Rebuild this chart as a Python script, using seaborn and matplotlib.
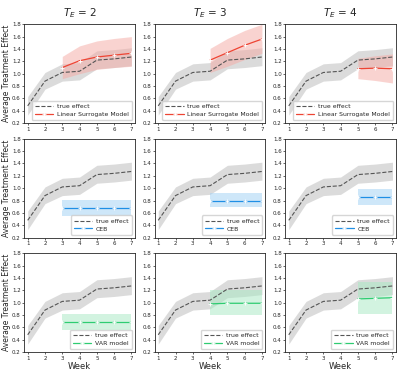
import numpy as np
import pandas as pd
import matplotlib
matplotlib.use("Agg")
import matplotlib.pyplot as plt
import seaborn as sns

# true effect (same in every panel)
weeks = [1, 2, 3, 4, 5, 6, 7]
true_mean = [0.48, 0.88, 1.02, 1.04, 1.22, 1.24, 1.27]
true_low = [0.33, 0.75, 0.88, 0.90, 1.08, 1.10, 1.13]
true_high = [0.63, 1.02, 1.16, 1.18, 1.37, 1.39, 1.42]

# experiment lengths (columns)
te_values = [2, 3, 4]

# Linear Surrogate Model
lsm_mean = {2: [1.10, 1.21, 1.27, 1.30, 1.33],
            3: [1.22, 1.34, 1.46, 1.56],
            4: [1.08, 1.09, 1.08]}
lsm_low = {2: [0.92, 1.00, 1.07, 1.10, 1.12],
           3: [1.02, 1.12, 1.23, 1.33],
           4: [0.92, 0.89, 0.85]}
lsm_high = {2: [1.28, 1.45, 1.53, 1.57, 1.60],
            3: [1.41, 1.57, 1.70, 1.80],
            4: [1.25, 1.29, 1.32]}

# CEB
ceb_mean = {2: [0.68, 0.68, 0.68, 0.68, 0.68],
            3: [0.80, 0.80, 0.80, 0.80],
            4: [0.85, 0.85, 0.85]}
ceb_low = {2: [0.55, 0.55, 0.55, 0.55, 0.55],
           3: [0.69, 0.69, 0.69, 0.69],
           4: [0.73, 0.73, 0.73]}
ceb_high = {2: [0.81, 0.81, 0.81, 0.81, 0.81],
            3: [0.92, 0.92, 0.92, 0.92],
            4: [0.98, 0.98, 0.98]}

# VAR model
var_mean = {2: [0.68, 0.68, 0.68, 0.68, 0.68],
            3: [0.98, 0.99, 0.99, 0.99],
            4: [1.06, 1.07, 1.08]}
var_low = {2: [0.55, 0.55, 0.55, 0.55, 0.55],
           3: [0.80, 0.80, 0.80, 0.80],
           4: [0.81, 0.81, 0.81]}
var_high = {2: [0.81, 0.81, 0.81, 0.81, 0.81],
            3: [1.20, 1.20, 1.20, 1.20],
            4: [1.33, 1.33, 1.33]}

models = [
    ("Linear Surrogate Model", "#ee4433", "#f5a9a3", lsm_mean, lsm_low, lsm_high),
    ("CEB", "#1f8fe5", "#9fd0f5", ceb_mean, ceb_low, ceb_high),
    ("VAR model", "#2ecc71", "#a6e9c2", var_mean, var_low, var_high),
]

sns.set_style("ticks")
plt.rcParams['font.family'] = ['DejaVu Sans']

fig, axes = plt.subplots(3, 3, figsize=(4.04, 3.73), dpi=100)
fig.subplots_adjust(left=0.06, right=0.98, bottom=0.056, top=0.935,
                    wspace=0.18, hspace=0.157)

true_df = pd.DataFrame({"week": weeks, "ate": true_mean})

for r, (name, color, band_color, mean_d, low_d, high_d) in enumerate(models):
    for c, te in enumerate(te_values):
        ax = axes[r, c]
        ax.fill_between(weeks, true_low, true_high, color="#c4c4c4", alpha=0.6, lw=0)
        sns.lineplot(data=true_df, x="week", y="ate", ax=ax, color="#555555",
                     linestyle="--", lw=0.8, label="true effect")
        mw = weeks[te:]
        ax.fill_between(mw, low_d[te], high_d[te], color=band_color, alpha=0.5, lw=0)
        mdf = pd.DataFrame({"week": mw, "ate": mean_d[te]})
        sns.lineplot(data=mdf, x="week", y="ate", ax=ax, color=color, lw=0.9,
                     marker="+", markersize=2.5, mew=0.6, label=name)
        ax.set_ylim(0.2, 1.8)
        ax.set_xlim(0.8, 7.2)
        ax.set_xticks(weeks)
        ax.set_yticks(np.arange(0.2, 1.81, 0.2))
        ax.set_yticklabels([f"{v:.1f}" for v in np.arange(0.2, 1.81, 0.2)])
        ax.tick_params(labelsize=4, length=1.5, width=0.5, pad=1)
        for s in ax.spines.values():
            s.set_linewidth(0.6)
        ax.set_xlabel("Week" if r == 2 else "", fontsize=6, labelpad=1)
        ax.set_ylabel("Average Treatment Effect" if c == 0 else "", fontsize=5.5, labelpad=1)
        if r == 0:
            ax.set_title(f"$T_E$ = {te}", fontsize=7.5, pad=6)
        ax.legend(loc="lower right", fontsize=4.4, handlelength=3.0,
                  borderpad=0.5, labelspacing=0.4, handletextpad=0.6,
                  frameon=True, fancybox=True)

fig.savefig("out.png", dpi=100)
